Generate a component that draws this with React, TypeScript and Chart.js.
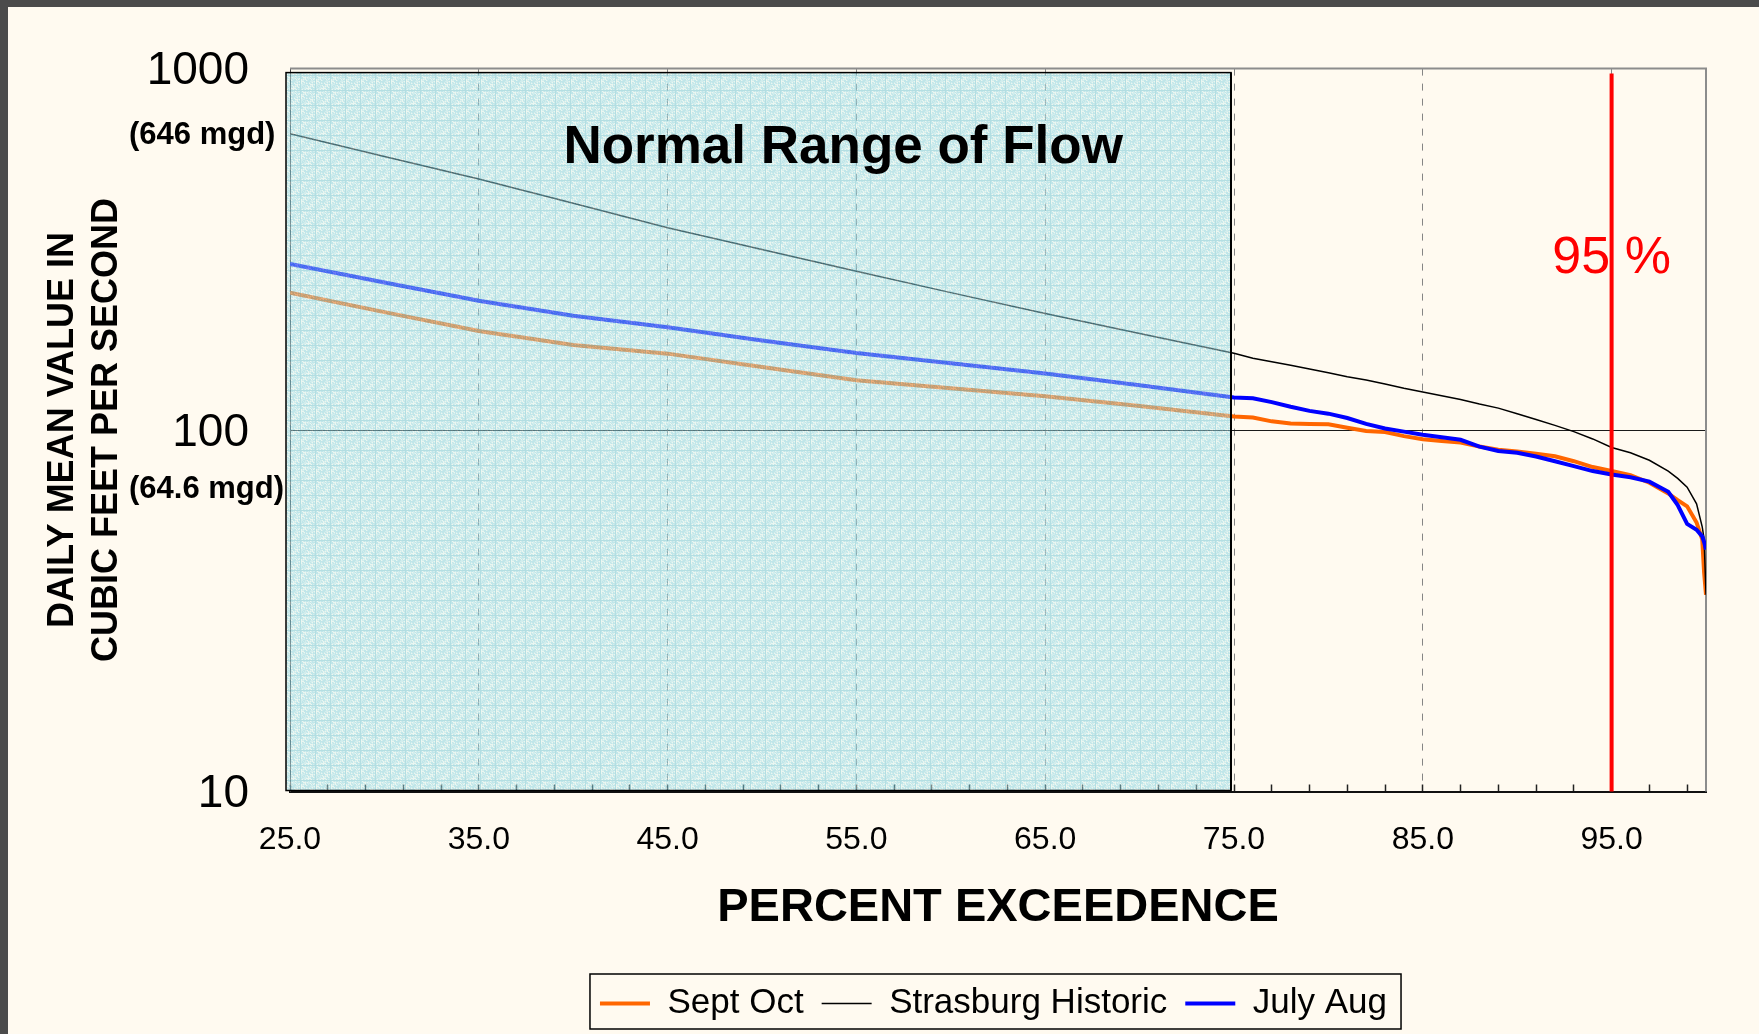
import React, { useEffect, useRef } from 'react';
import { Chart, registerables } from 'chart.js';

Chart.register(...registerables);

const FONT = "'Liberation Sans', Arial, Helvetica, sans-serif";

// ---- data (percent exceedance vs daily mean flow, cfs) ----
const exceedance = [25, 30, 35, 40, 45, 50, 55, 60, 65, 70, 75, 76, 77, 78, 79, 80, 81, 82, 83, 84, 85, 86, 87, 88, 89, 90, 91, 92, 93, 94, 95, 96, 97, 98, 98.5, 99, 99.5, 99.8, 99.9, 100];
const septOct = [240, 212, 188, 172, 162.7, 149.5, 137.3, 130.5, 124, 116.5, 109, 108.3, 105.7, 104.2, 104, 103.8, 101.5, 99.4, 98.7, 96.2, 94.3, 93.2, 92.3, 90, 88.2, 87.2, 86, 84.6, 82, 79, 77, 75, 71.5, 66.8, 64, 61.5, 55.5, 49.8, 40.3, 35];
const strasburgHistoric = [660, 571, 495, 424, 363, 316, 275, 240, 210, 185, 163, 158, 154.5, 151, 147.5, 144, 140.5, 137.5, 134, 130.5, 127.5, 124.5, 121.5, 118, 115, 111, 107, 103, 99, 94.5, 89.5, 86.5, 82.5, 77, 73.5, 69.5, 62.5, 54, 50, 35];
const julyAug = [288, 256, 228, 207, 192.6, 177, 163.3, 153, 143.3, 133, 123, 122.5, 119.5, 116, 113, 111, 108, 104, 101, 99, 97, 95.5, 94, 90, 87.5, 86.5, 84.5, 82, 79.5, 77, 75.3, 74, 72, 67.5, 62, 55, 53, 50.8, 49, 46.7];

const seriesLabels = ['Sept Oct', 'Strasburg Historic', 'July Aug'];
const seriesColors = ['#ff6600', '#000000', '#0000ff'];

// ---- axes ----
const xMin = 25;
const xMax = 100;
const xMajorTicks = [25, 35, 45, 55, 65, 75, 85, 95];
const xTickLabels = ['25.0', '35.0', '45.0', '55.0', '65.0', '75.0', '85.0', '95.0'];
const xMinorStep = 2;
const yMin = 10;
const yMax = 1000;
const yTickValues = [10, 100, 1000];
const yTickLabels = ['10', '100', '1000'];
const mgdValues = [1000, 100];
const mgdLabels = ['(646 mgd)', '(64.6 mgd)'];

// ---- annotations ----
const normalRange = [25, 75];
const normalRangeLabel = 'Normal Range of Flow';
const normalRangeLabelAt = [54.3, 600];
const thresholdPercent = 95;
const thresholdLabel = '95 %';
const thresholdLabelY = 298;

const xTickValues: number[] = [];
for (let v = xMin; v < xMax; v += xMinorStep) xTickValues.push(v);

function makePattern(ctx: CanvasRenderingContext2D) {
  const size = 15;
  const c = document.createElement('canvas');
  c.width = size;
  c.height = size;
  const g = c.getContext('2d')!;
  const img = g.createImageData(size, size);
  for (let j = 0; j < size; j++) {
    for (let i = 0; i < size; i++) {
      const k = (j * size + i) * 4;
      let col: number[];
      if (i === 0 || j === 0) col = [125, 203, 216, 150];
      else {
        const h = (i * 7 + j * 13 + ((i * j) % 7) * 5) % 20;
        if (h < 8) col = [130, 210, 226, 128];
        else if (h < 15) col = [165, 224, 233, 128];
        else col = [215, 242, 240, 128];
      }
      img.data[k] = col[0];
      img.data[k + 1] = col[1];
      img.data[k + 2] = col[2];
      img.data[k + 3] = col[3];
    }
  }
  g.putImageData(img, 0, 0);
  return ctx.createPattern(c, 'repeat');
}

export default function App() {
  const ref = useRef<HTMLCanvasElement>(null);

  useEffect(() => {
    const canvas = ref.current!;
    let pattern: CanvasPattern | null = null;

    const decor = {
      id: 'decor',
      afterLayout(chart: any) {
        const lg = chart.legend;
        const ca = chart.chartArea;
        if (lg) {
          lg.left = ca.left - 9;
          lg.right = ca.right;
          lg.width = lg.right - lg.left;
        }
      },
      beforeDatasetsDraw(chart: any) {
        const { ctx, chartArea: ca } = chart;
        ctx.save();
        ctx.strokeStyle = '#8c8c8c';
        ctx.lineWidth = 2;
        ctx.beginPath();
        ctx.moveTo(ca.left, ca.top);
        ctx.lineTo(ca.right, ca.top);
        ctx.lineTo(ca.right, ca.bottom);
        ctx.stroke();
        ctx.restore();
      },
      afterDatasetsDraw(chart: any) {
        const { ctx, chartArea: ca } = chart;
        const xs = chart.scales.x;
        const ys = chart.scales.y;
        if (!pattern) pattern = makePattern(ctx);
        const l = xs.getPixelForValue(normalRange[0]) - 4;
        const r = xs.getPixelForValue(normalRange[1]) - 3;
        const t = ca.top + 4;
        const b = ca.bottom - 1;
        ctx.save();
        ctx.fillStyle = pattern as any;
        ctx.fillRect(l, t, r - l, b - t);
        ctx.strokeStyle = '#000';
        ctx.lineWidth = 1.5;
        ctx.strokeRect(l, t, r - l, b - t);
        ctx.lineWidth = 2;
        ctx.beginPath();
        ctx.moveTo(r, t);
        ctx.lineTo(r, b);
        ctx.stroke();

        // normal range label
        ctx.fillStyle = '#000';
        ctx.font = `bold 53px ${FONT}`;
        ctx.textAlign = 'center';
        ctx.textBaseline = 'middle';
        ctx.fillText(normalRangeLabel, xs.getPixelForValue(normalRangeLabelAt[0]), ys.getPixelForValue(normalRangeLabelAt[1]));

        // threshold line
        const tx = xs.getPixelForValue(thresholdPercent);
        ctx.strokeStyle = '#ff0000';
        ctx.lineWidth = 4;
        ctx.beginPath();
        ctx.moveTo(tx, ca.top + 5);
        ctx.lineTo(tx, ca.bottom);
        ctx.stroke();
        ctx.fillStyle = '#ff0000';
        ctx.font = `52px ${FONT}`;
        ctx.fillText(thresholdLabel, tx, ys.getPixelForValue(thresholdLabelY));
        ctx.restore();
      },
      afterDraw(chart: any) {
        const { ctx, chartArea: ca } = chart;
        const ys = chart.scales.y;
        ctx.save();
        ctx.fillStyle = '#000';
        ctx.font = `bold 31px ${FONT}`;
        ctx.textAlign = 'left';
        ctx.textBaseline = 'middle';
        const offs = [67, 59];
        mgdLabels.forEach((txt, i) => {
          ctx.fillText(txt, ca.left - 161, ys.getPixelForValue(mgdValues[i]) + offs[i]);
        });
        const lg = chart.legend;
        const hb = lg && lg.legendHitBoxes;
        if (hb && hb.length) {
          const l = Math.min(...hb.map((h: any) => h.left)) - 10;
          const r = Math.max(...hb.map((h: any) => h.left + h.width)) + 14;
          const t = hb[0].top - 12;
          const b = hb[0].top + hb[0].height + 8;
          ctx.strokeStyle = '#000';
          ctx.lineWidth = 1.5;
          ctx.strokeRect(l, t, r - l, b - t);
        }
        ctx.restore();
      },
    };

    const series = [septOct, strasburgHistoric, julyAug];
    const widths = [4, 1.5, 4];
    const orders = [2, 1, 0];

    const chart = new Chart(canvas, {
      type: 'line',
      data: {
        datasets: series.map((vals, si) => ({
          label: seriesLabels[si],
          data: exceedance.map((x, i) => ({ x, y: vals[i] })),
          borderColor: seriesColors[si],
          backgroundColor: seriesColors[si],
          borderWidth: widths[si],
          pointRadius: 0,
          tension: 0,
          fill: false,
          order: orders[si],
        })),
      },
      options: {
        responsive: false,
        maintainAspectRatio: false,
        animation: false,
        devicePixelRatio: 1,
        events: [],
        layout: { padding: { left: 0, right: 53, top: 67, bottom: 3 } },
        font: { family: FONT },
        scales: {
          x: {
            type: 'linear',
            min: xMin,
            max: xMax,
            afterBuildTicks: (s: any) => {
              s.ticks = xTickValues.map((v) => ({ value: v }));
            },
            afterFit: (s: any) => {
              s.height = 176.5;
            },
            ticks: {
              autoSkip: false,
              maxRotation: 0,
              minRotation: 0,
              padding: 36,
              color: '#000',
              font: { family: FONT, size: 32 },
              callback: (v: any) => {
                const idx = xMajorTicks.indexOf(Number(v));
                return idx >= 0 ? xTickLabels[idx] : '';
              },
            },
            grid: {
              color: (c: any) =>
                c.tick && xMajorTicks.includes(c.tick.value) && c.tick.value !== xMin ? '#858585' : 'rgba(0,0,0,0)',
              lineWidth: 1,
              drawTicks: true,
              tickLength: -7,
              tickColor: '#222',
              tickWidth: 1.5,
            },
            border: { display: true, color: '#111', width: 2, dash: [7, 8] },
            title: {
              display: true,
              text: 'PERCENT EXCEEDENCE',
              color: '#000',
              font: { family: FONT, size: 47, weight: 'bold' },
              padding: { top: 0, bottom: 32 },
            },
          },
          y: {
            type: 'logarithmic',
            min: yMin,
            max: yMax,
            afterBuildTicks: (s: any) => {
              s.ticks = yTickValues.map((v) => ({ value: v }));
            },
            afterFit: (s: any) => {
              s.width = 290;
            },
            ticks: {
              padding: 41,
              labelOffset: 3,
              color: '#000',
              font: { family: FONT, size: 46 },
              callback: (v: any) => {
                const idx = yTickValues.indexOf(Number(v));
                return idx >= 0 ? yTickLabels[idx] : '';
              },
            },
            grid: {
              color: (c: any) => (c.tick && c.tick.value === 100 ? '#1a1a1a' : 'rgba(0,0,0,0)'),
              lineWidth: 1,
              drawTicks: false,
            },
            border: { display: true, color: '#444', width: 1 },
            title: {
              display: true,
              text: ['DAILY MEAN VALUE IN', 'CUBIC FEET PER SECOND'],
              color: '#000',
              font: { family: FONT, size: 36, weight: 'bold', lineHeight: '44px' },
              padding: { top: 41, bottom: 0 },
            },
          },
        },
        plugins: {
          tooltip: { enabled: false },
          title: { display: false },
          legend: {
            display: true,
            position: 'bottom',
            labels: {
              color: '#000',
              font: { family: FONT, size: 35 },
              usePointStyle: true,
              pointStyle: 'line',
              pointStyleWidth: 50,
              padding: 18,
              sort: (a: any, b: any) => a.datasetIndex - b.datasetIndex,
            },
          },
        },
      } as any,
      plugins: [decor as any],
    });

    return () => chart.destroy();
  }, []);

  return (
    <div style={{ position: 'fixed', left: 0, top: 0, width: 1759, height: 1034, background: '#4b4b4b', overflow: 'hidden' }}>
      <div style={{ position: 'absolute', left: 8, top: 7, right: 0, bottom: 0, background: '#fffaf0' }} />
      <canvas
        ref={ref}
        width={1759}
        height={1034}
        style={{ position: 'absolute', left: 0, top: 0, width: 1759, height: 1034 }}
      />
    </div>
  );
}
